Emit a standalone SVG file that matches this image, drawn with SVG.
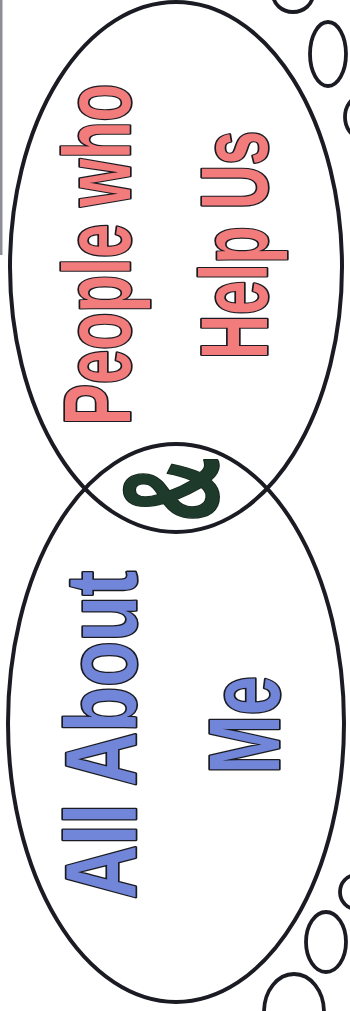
<svg xmlns="http://www.w3.org/2000/svg" width="350" height="1011" viewBox="0 0 350 1011">
<style>
.ring{fill:none;stroke:#1b1b24;stroke-width:4}
.bub{fill:none;stroke:#1b1b24;stroke-width:3.8}
.t{font-family:"Liberation Sans",Arial,sans-serif;font-weight:bold;stroke:#1b1b22;stroke-width:3.4;paint-order:stroke;stroke-linejoin:round}
.red{fill:#f27b7b}
.blue{fill:#7186d8}
.amp{fill:#1e3a2a;stroke:#15251c;stroke-width:2}
</style>
<rect width="350" height="1011" fill="#ffffff"/>
<rect x="0" y="0" width="2.5" height="255" fill="#8e8e98"/>
<g id="bubbles">
<ellipse class="bub" cx="293" cy="-6" rx="20" ry="18"/>
<ellipse class="bub" cx="328" cy="54" rx="18" ry="32"/>
<ellipse class="bub" cx="360" cy="117" rx="15" ry="20"/>
<ellipse class="bub" cx="356" cy="892" rx="16" ry="17"/>
<ellipse class="bub" cx="326" cy="942" rx="20" ry="30"/>
<ellipse class="bub" cx="294" cy="1012" rx="30" ry="38"/>
</g>
<g id="people">
<ellipse class="ring" cx="176" cy="267" rx="166" ry="265"/>
<text class="t red" font-size="95" text-anchor="middle" textLength="341" lengthAdjust="spacingAndGlyphs" transform="translate(129.5,254.5) rotate(-90)">People who</text>
<text class="t red" font-size="95" text-anchor="middle" textLength="228" lengthAdjust="spacingAndGlyphs" transform="translate(266.5,245) rotate(-90)">Help Us</text>
</g>
<g id="me">
<ellipse class="ring" cx="176" cy="723" rx="168" ry="279"/>
<text class="t blue" font-size="100" text-anchor="middle" textLength="328" lengthAdjust="spacingAndGlyphs" transform="translate(135.5,735) rotate(-90)">All About</text>
<text class="t blue" font-size="100" text-anchor="middle" textLength="98" lengthAdjust="spacingAndGlyphs" transform="translate(278.5,725) rotate(-90)">Me</text>
</g>
<g id="and">
<text class="t amp" font-size="136" text-anchor="middle" textLength="65" lengthAdjust="spacingAndGlyphs" transform="translate(218,489.5) rotate(-90)">&amp;</text>
</g>
</svg>
